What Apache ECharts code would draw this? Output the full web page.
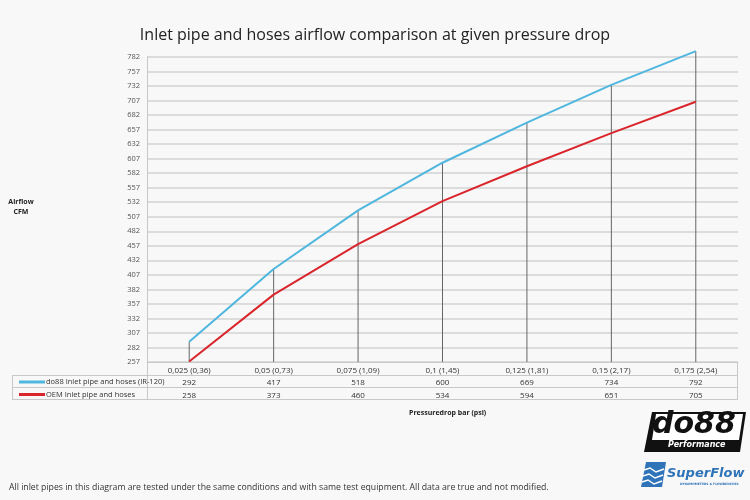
<!DOCTYPE html>
<html>
<head>
<meta charset="utf-8">
<script src="https://cdn.jsdelivr.net/npm/echarts@6/dist/echarts.min.js"></script>
<style>
  html, body { margin: 0; padding: 0; background: #f8f8f8; }
  #main { width: 750px; height: 500px; }
</style>
</head>
<body>
<div id="main"></div>
<script>
var categories = ['0,025 (0,36)', '0,05 (0,73)', '0,075 (1,09)', '0,1 (1,45)', '0,125 (1,81)', '0,15 (2,17)', '0,175 (2,54)'];
var do88Values = [292, 417, 518, 600, 669, 734, 792];
var oemValues = [258, 373, 460, 534, 594, 651, 705];
var seriesNames = ['do88 Inlet pipe and hoses (IR-120)', 'OEM Inlet pipe and hoses'];
var yMin = 257, yMax = 782, yStep = 25;

var blue = '#4fb6de';
var red = '#d9252b';
var border = '#c8c8c8';

var chart = echarts.init(document.getElementById('main'));

// table borders under the plot
function hline(y, x1, x2) {
	return { type: 'line', silent: true, shape: { x1: x1, y1: y, x2: x2, y2: y }, style: { stroke: border, lineWidth: 1 } };
}
function vline(x, y1, y2) {
	return { type: 'line', silent: true, shape: { x1: x, y1: y1, x2: x, y2: y2 }, style: { stroke: border, lineWidth: 1 } };
}

option = {
	backgroundColor: '#f8f8f8',
	animation: false,
	textStyle: { fontFamily: 'Open Sans' },
	title: [{
		text: 'Inlet pipe and hoses airflow comparison at given pressure drop',
		left: 'center',
		top: 22,
		textStyle: { fontSize: 16, fontWeight: 'normal', color: '#222' }
	}, {
		text: 'Pressuredrop bar (psi)',
		left: 404,
		top: 404,
		textStyle: { fontSize: 7, fontWeight: 'bold', color: '#222' }
	}, {
		text: 'All inlet pipes in this diagram are tested under the same conditions and with same test equipment. All data are true and not modified.',
		left: 4,
		top: 478,
		textStyle: { fontSize: 8.7, fontWeight: 'normal', color: '#333' }
	}],
	legend: {
		data: seriesNames,
		orient: 'vertical',
		left: 14,
		top: 372,
		itemGap: 2.5,
		itemWidth: 26,
		itemHeight: 3,
		icon: 'rect',
		textStyle: { fontSize: 7.5, color: '#333', lineHeight: 10, padding: [0, 0, 0, -4] }
	},
	grid: { left: 147, right: 12, top: 57, bottom: 138 },
	xAxis: {
		type: 'category',
		data: categories,
		axisLine: { lineStyle: { color: border } },
		axisTick: { show: false },
		axisLabel: {
			margin: 2,
			interval: 0,
			color: '#333',
			fontSize: 8,
			lineHeight: 12.5,
			formatter: function (v, i) {
				return v + '\n' + do88Values[i] + '\n' + oemValues[i];
			}
		}
	},
	yAxis: {
		type: 'value',
		min: yMin,
		max: yMax,
		interval: yStep,
		axisLine: { show: true, lineStyle: { color: border } },
		axisTick: { show: false },
		axisLabel: { color: '#555', fontSize: 7.5, margin: 7 },
		splitLine: { lineStyle: { color: '#d3d3d3', width: 1.5 } }
	},
	series: [{
		// drop lines from the higher series down to the axis
		name: 'drop',
		type: 'custom',
		data: do88Values.map(function (v, i) { return [i, v]; }),
		clip: false,
		silent: true,
		z: 1,
		renderItem: function (params, api) {
			var top = api.coord([api.value(0), api.value(1)]);
			var bottom = api.coord([api.value(0), yMin]);
			return {
				type: 'line',
				shape: { x1: top[0], y1: top[1], x2: bottom[0], y2: bottom[1] },
				style: { stroke: '#666', lineWidth: 1 }
			};
		}
	}, {
		name: seriesNames[0],
		type: 'line',
		data: do88Values,
		symbol: 'none',
		clip: false,
		lineStyle: { color: blue, width: 2 },
		itemStyle: { color: blue },
		z: 3
	}, {
		name: seriesNames[1],
		type: 'line',
		data: oemValues,
		symbol: 'none',
		clip: false,
		lineStyle: { color: red, width: 2 },
		itemStyle: { color: red },
		z: 3
	}],
	graphic: [
		hline(375.5, 12, 738), hline(387.5, 12, 738), hline(399.5, 12, 738),
		vline(12.5, 375.5, 399.5), vline(147.5, 362, 399.5), vline(737.5, 362, 399.5),
		{ type: 'text', silent: true, x: 21, y: 197, style: { text: 'Airflow\nCFM', align: 'center', fill: '#222', font: 'bold 7px "Open Sans"', lineHeight: 10 } },
		// do88 logo
		{ type: 'polygon', silent: true, shape: { points: [[652, 412], [746, 412], [740, 452], [644, 452]] }, style: { fill: '#111' } },
		{ type: 'polygon', silent: true, shape: { points: [[656, 414], [743, 414], [739, 440], [652, 440]] }, style: { fill: '#fff' } },
		{ type: 'text', silent: true, left: 652, top: 410, style: { text: 'do88', fill: '#111', font: 'italic bold 30px "DejaVu Sans"' } },
		{ type: 'text', silent: true, left: 668, top: 441, style: { text: 'Performance', fill: '#fff', font: 'italic bold 8px "DejaVu Sans"' } },
		// SuperFlow logo
		{ type: 'polygon', silent: true, shape: { points: [[646, 462], [666, 462], [662, 487], [641, 487]] }, style: { fill: '#2f74b8' } },
		{ type: 'polyline', silent: true, shape: { points: [[644, 470], [650, 468], [656, 472], [664, 469]] }, style: { stroke: '#fff', lineWidth: 1.5, fill: null } },
		{ type: 'polyline', silent: true, shape: { points: [[643, 476], [649, 474], [655, 478], [663, 475]] }, style: { stroke: '#fff', lineWidth: 1.5, fill: null } },
		{ type: 'polyline', silent: true, shape: { points: [[642, 482], [648, 480], [654, 484], [662, 481]] }, style: { stroke: '#fff', lineWidth: 1.5, fill: null } },
		{ type: 'text', silent: true, left: 667, top: 467, style: { text: 'SuperFlow', fill: '#2f74b8', font: 'italic bold 13px "DejaVu Sans"' } },
		{ type: 'text', silent: true, left: 680, top: 483, style: { text: 'DYNAMOMETERS & FLOWBENCHES', fill: '#2f74b8', font: 'bold 3px "DejaVu Sans"' } }
	]
};
chart.setOption(option);
</script>
</body>
</html>
